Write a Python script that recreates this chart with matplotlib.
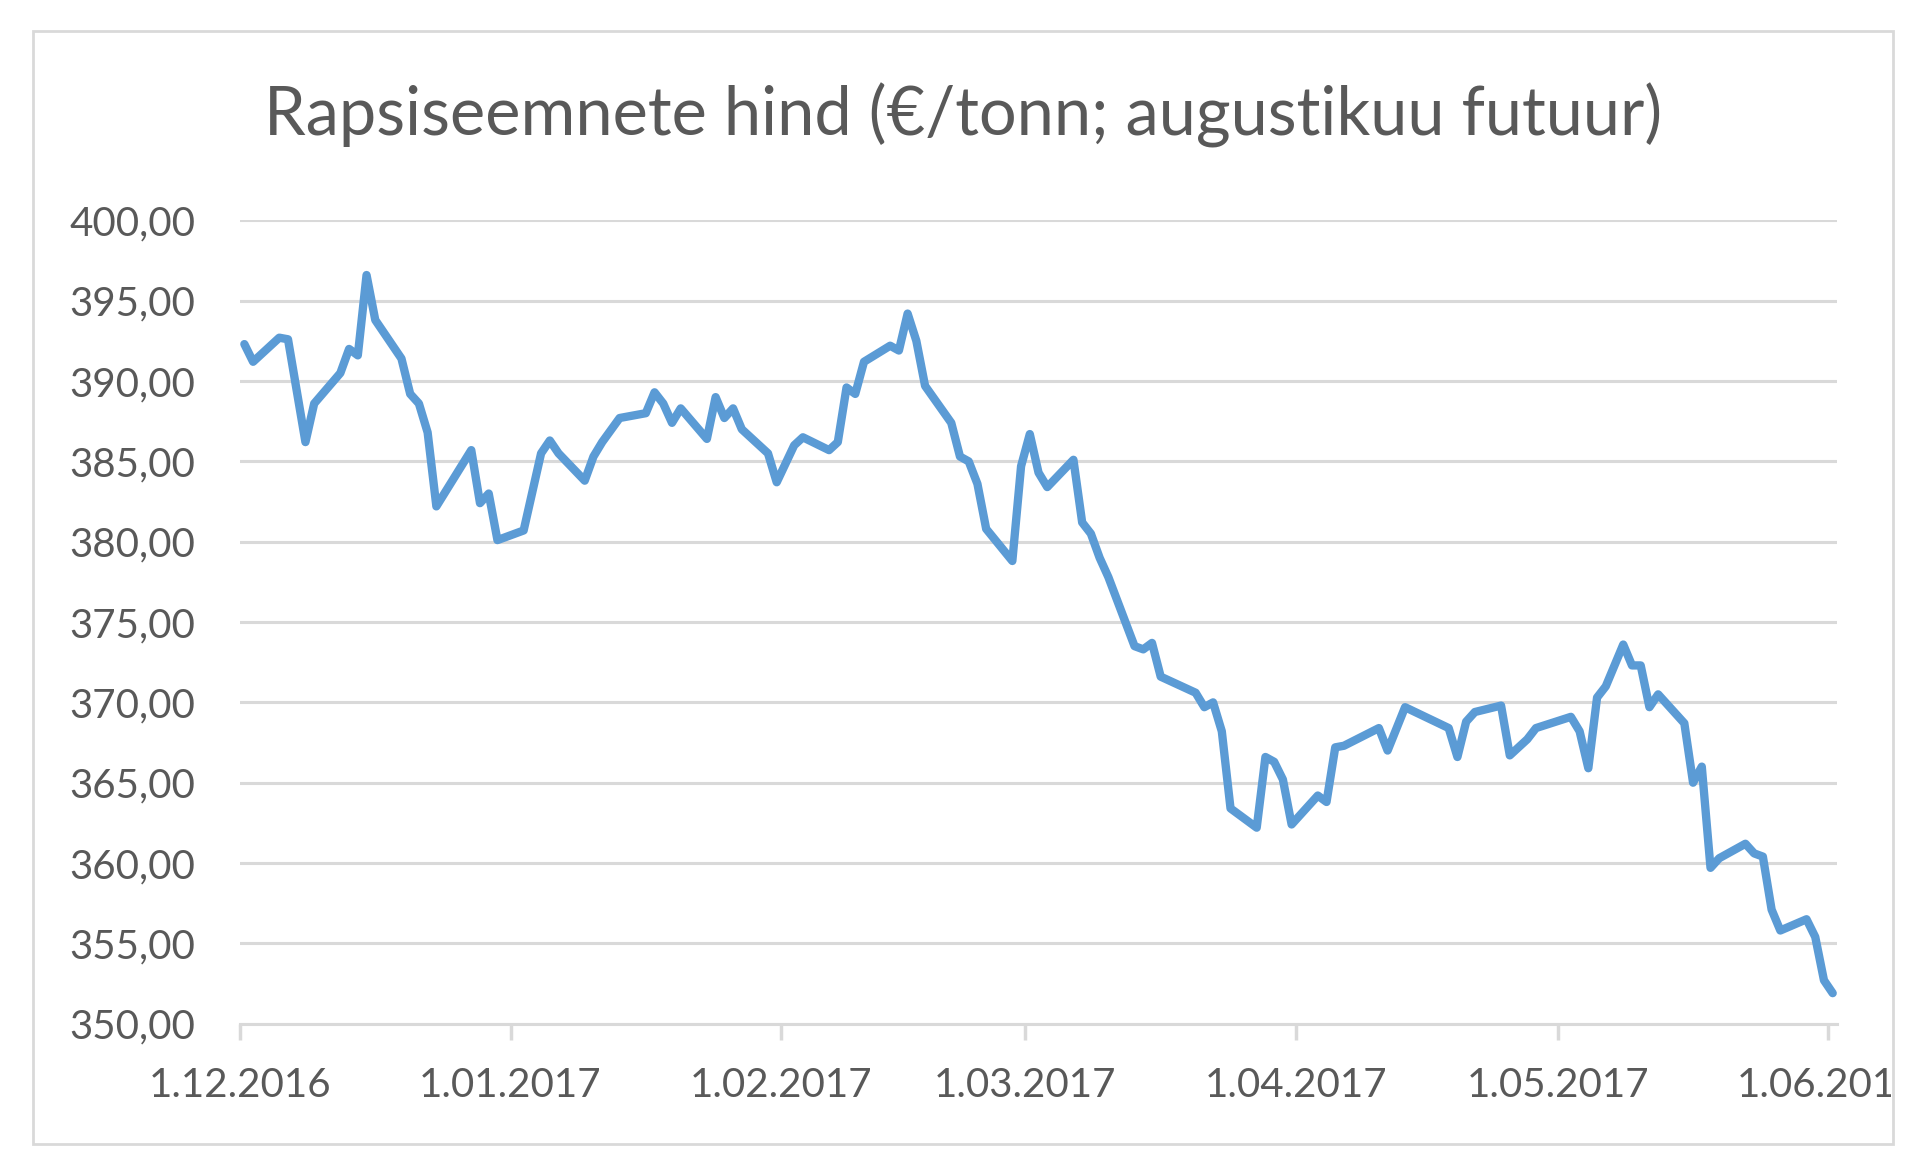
import matplotlib
matplotlib.use('Agg')

import matplotlib.pyplot as plt
import matplotlib.dates as mdates
from matplotlib.patches import Rectangle
from matplotlib.ticker import FuncFormatter, MultipleLocator
import datetime as dt

# rapeseed price, august future (EUR/t)
trade_dates = [
    '2016-12-01', '2016-12-02', '2016-12-05', '2016-12-06', '2016-12-08', '2016-12-09',
    '2016-12-12', '2016-12-13', '2016-12-14', '2016-12-15', '2016-12-16', '2016-12-19',
    '2016-12-20', '2016-12-21', '2016-12-22', '2016-12-23', '2016-12-27', '2016-12-28',
    '2016-12-29', '2016-12-30', '2017-01-02', '2017-01-04', '2017-01-05', '2017-01-06',
    '2017-01-09', '2017-01-10', '2017-01-11', '2017-01-13', '2017-01-16', '2017-01-17',
    '2017-01-18', '2017-01-19', '2017-01-20', '2017-01-23', '2017-01-24', '2017-01-25',
    '2017-01-26', '2017-01-27', '2017-01-30', '2017-01-31', '2017-02-02', '2017-02-03',
    '2017-02-06', '2017-02-07', '2017-02-08', '2017-02-09', '2017-02-10', '2017-02-13',
    '2017-02-14', '2017-02-15', '2017-02-16', '2017-02-17', '2017-02-20', '2017-02-21',
    '2017-02-22', '2017-02-23', '2017-02-24', '2017-02-27', '2017-02-28', '2017-03-01',
    '2017-03-02', '2017-03-03', '2017-03-06', '2017-03-07', '2017-03-08', '2017-03-09',
    '2017-03-10', '2017-03-13', '2017-03-14', '2017-03-15', '2017-03-16', '2017-03-20',
    '2017-03-21', '2017-03-22', '2017-03-23', '2017-03-24', '2017-03-27', '2017-03-28',
    '2017-03-29', '2017-03-30', '2017-03-31', '2017-04-03', '2017-04-04', '2017-04-05',
    '2017-04-06', '2017-04-10', '2017-04-11', '2017-04-13', '2017-04-18', '2017-04-19',
    '2017-04-20', '2017-04-21', '2017-04-24', '2017-04-25', '2017-04-27', '2017-04-28',
    '2017-05-02', '2017-05-03', '2017-05-04', '2017-05-05', '2017-05-06', '2017-05-08',
    '2017-05-09', '2017-05-10', '2017-05-11', '2017-05-12', '2017-05-15', '2017-05-16',
    '2017-05-17', '2017-05-18', '2017-05-19', '2017-05-22', '2017-05-23', '2017-05-24',
    '2017-05-25', '2017-05-26', '2017-05-29', '2017-05-30', '2017-05-31', '2017-06-01',
]
prices = [
    392.3, 391.2, 392.7, 392.6, 386.2, 388.6,
    390.5, 392.0, 391.6, 396.6, 393.8, 391.4,
    389.2, 388.6, 386.8, 382.2, 385.7, 382.4,
    383.0, 380.1, 380.7, 385.5, 386.3, 385.5,
    383.8, 385.3, 386.2, 387.7, 388.0, 389.3,
    388.6, 387.4, 388.3, 386.4, 389.0, 387.7,
    388.3, 387.0, 385.5, 383.7, 386.0, 386.5,
    385.7, 386.2, 389.6, 389.2, 391.2, 392.2,
    391.9, 394.2, 392.5, 389.7, 387.4, 385.3,
    385.0, 383.6, 380.8, 378.8, 384.7, 386.7,
    384.3, 383.4, 385.1, 381.2, 380.5, 379.0,
    377.8, 373.5, 373.3, 373.7, 371.6, 370.6,
    369.7, 370.0, 368.2, 363.4, 362.2, 366.6,
    366.3, 365.2, 362.4, 364.2, 363.8, 367.2,
    367.3, 368.4, 367.0, 369.7, 368.4, 366.6,
    368.8, 369.4, 369.8, 366.7, 367.7, 368.4,
    369.1, 368.2, 365.9, 370.3, 371.0, 373.6,
    372.3, 372.3, 369.7, 370.5, 368.7, 365.0,
    366.0, 359.7, 360.3, 361.2, 360.6, 360.4,
    357.1, 355.8, 356.5, 355.4, 352.7, 351.9,
]
month_ticks = ['2016-12-01', '2017-01-01', '2017-02-01', '2017-03-01',
               '2017-04-01', '2017-05-01', '2017-06-01']
title = 'Rapsiseemnete hind (€/tonn; augustikuu futuur)'

text_col = '#595959'
grid_col = '#D9D9D9'
line_col = '#5B9BD5'
plt.rcParams['font.family'] = ['Lato', 'DejaVu Sans']

# excel date axis: points sit in the middle of each day
x = [mdates.date2num(dt.datetime.strptime(d, '%Y-%m-%d')) + 0.5 for d in trade_dates]
xt = [mdates.date2num(dt.datetime.strptime(d, '%Y-%m-%d')) for d in month_ticks]

fig = plt.figure(figsize=(19.2, 11.73), dpi=100)
ax = fig.add_axes([0.125, 0.1273, 0.8318, 0.6848])

# chart border
fig.patches.append(Rectangle((33 / 1920, 1 - 1144 / 1173), (1893 - 33) / 1920, (1144 - 31) / 1173,
                             transform=fig.transFigure, fill=False, edgecolor=grid_col, linewidth=2))

ax.plot(x, prices, color=line_col, linewidth=6, solid_joinstyle='round', solid_capstyle='round',
        zorder=3)

ax.set_ylim(350, 400)
ax.set_xlim(xt[0], xt[-1] + 1)
ax.yaxis.set_major_locator(MultipleLocator(5))
ax.yaxis.set_major_formatter(FuncFormatter(lambda v, p: ('%.2f' % v).replace('.', ',')))
ax.set_xticks(xt)
ax.xaxis.set_major_formatter(FuncFormatter(
    lambda v, p: '%d.%02d.%d' % (mdates.num2date(v).day, mdates.num2date(v).month, mdates.num2date(v).year)))

ax.grid(True, axis='y', color=grid_col, linewidth=2.2)
ax.set_axisbelow(True)
for s in ['left', 'right', 'top']:
    ax.spines[s].set_visible(False)
ax.spines['bottom'].set_color(grid_col)
ax.spines['bottom'].set_linewidth(2.2)

ax.tick_params(axis='y', length=0, pad=32, labelsize=29, labelcolor=text_col)
ax.tick_params(axis='x', length=11.5, width=2.5, color=grid_col, pad=20, labelsize=29,
               labelcolor=text_col)

# last date label is cut by the chart border
clip = Rectangle((33 / 1920, 0), (1891 - 33) / 1920, 1, transform=fig.transFigure)
for lab in ax.get_xticklabels():
    lab.set_clip_path(clip)

fig.text(0.5015, 1 - 135 / 1173, title, ha='center', va='baseline', fontsize=48, color=text_col)

plt.savefig('out.png', dpi=100)
